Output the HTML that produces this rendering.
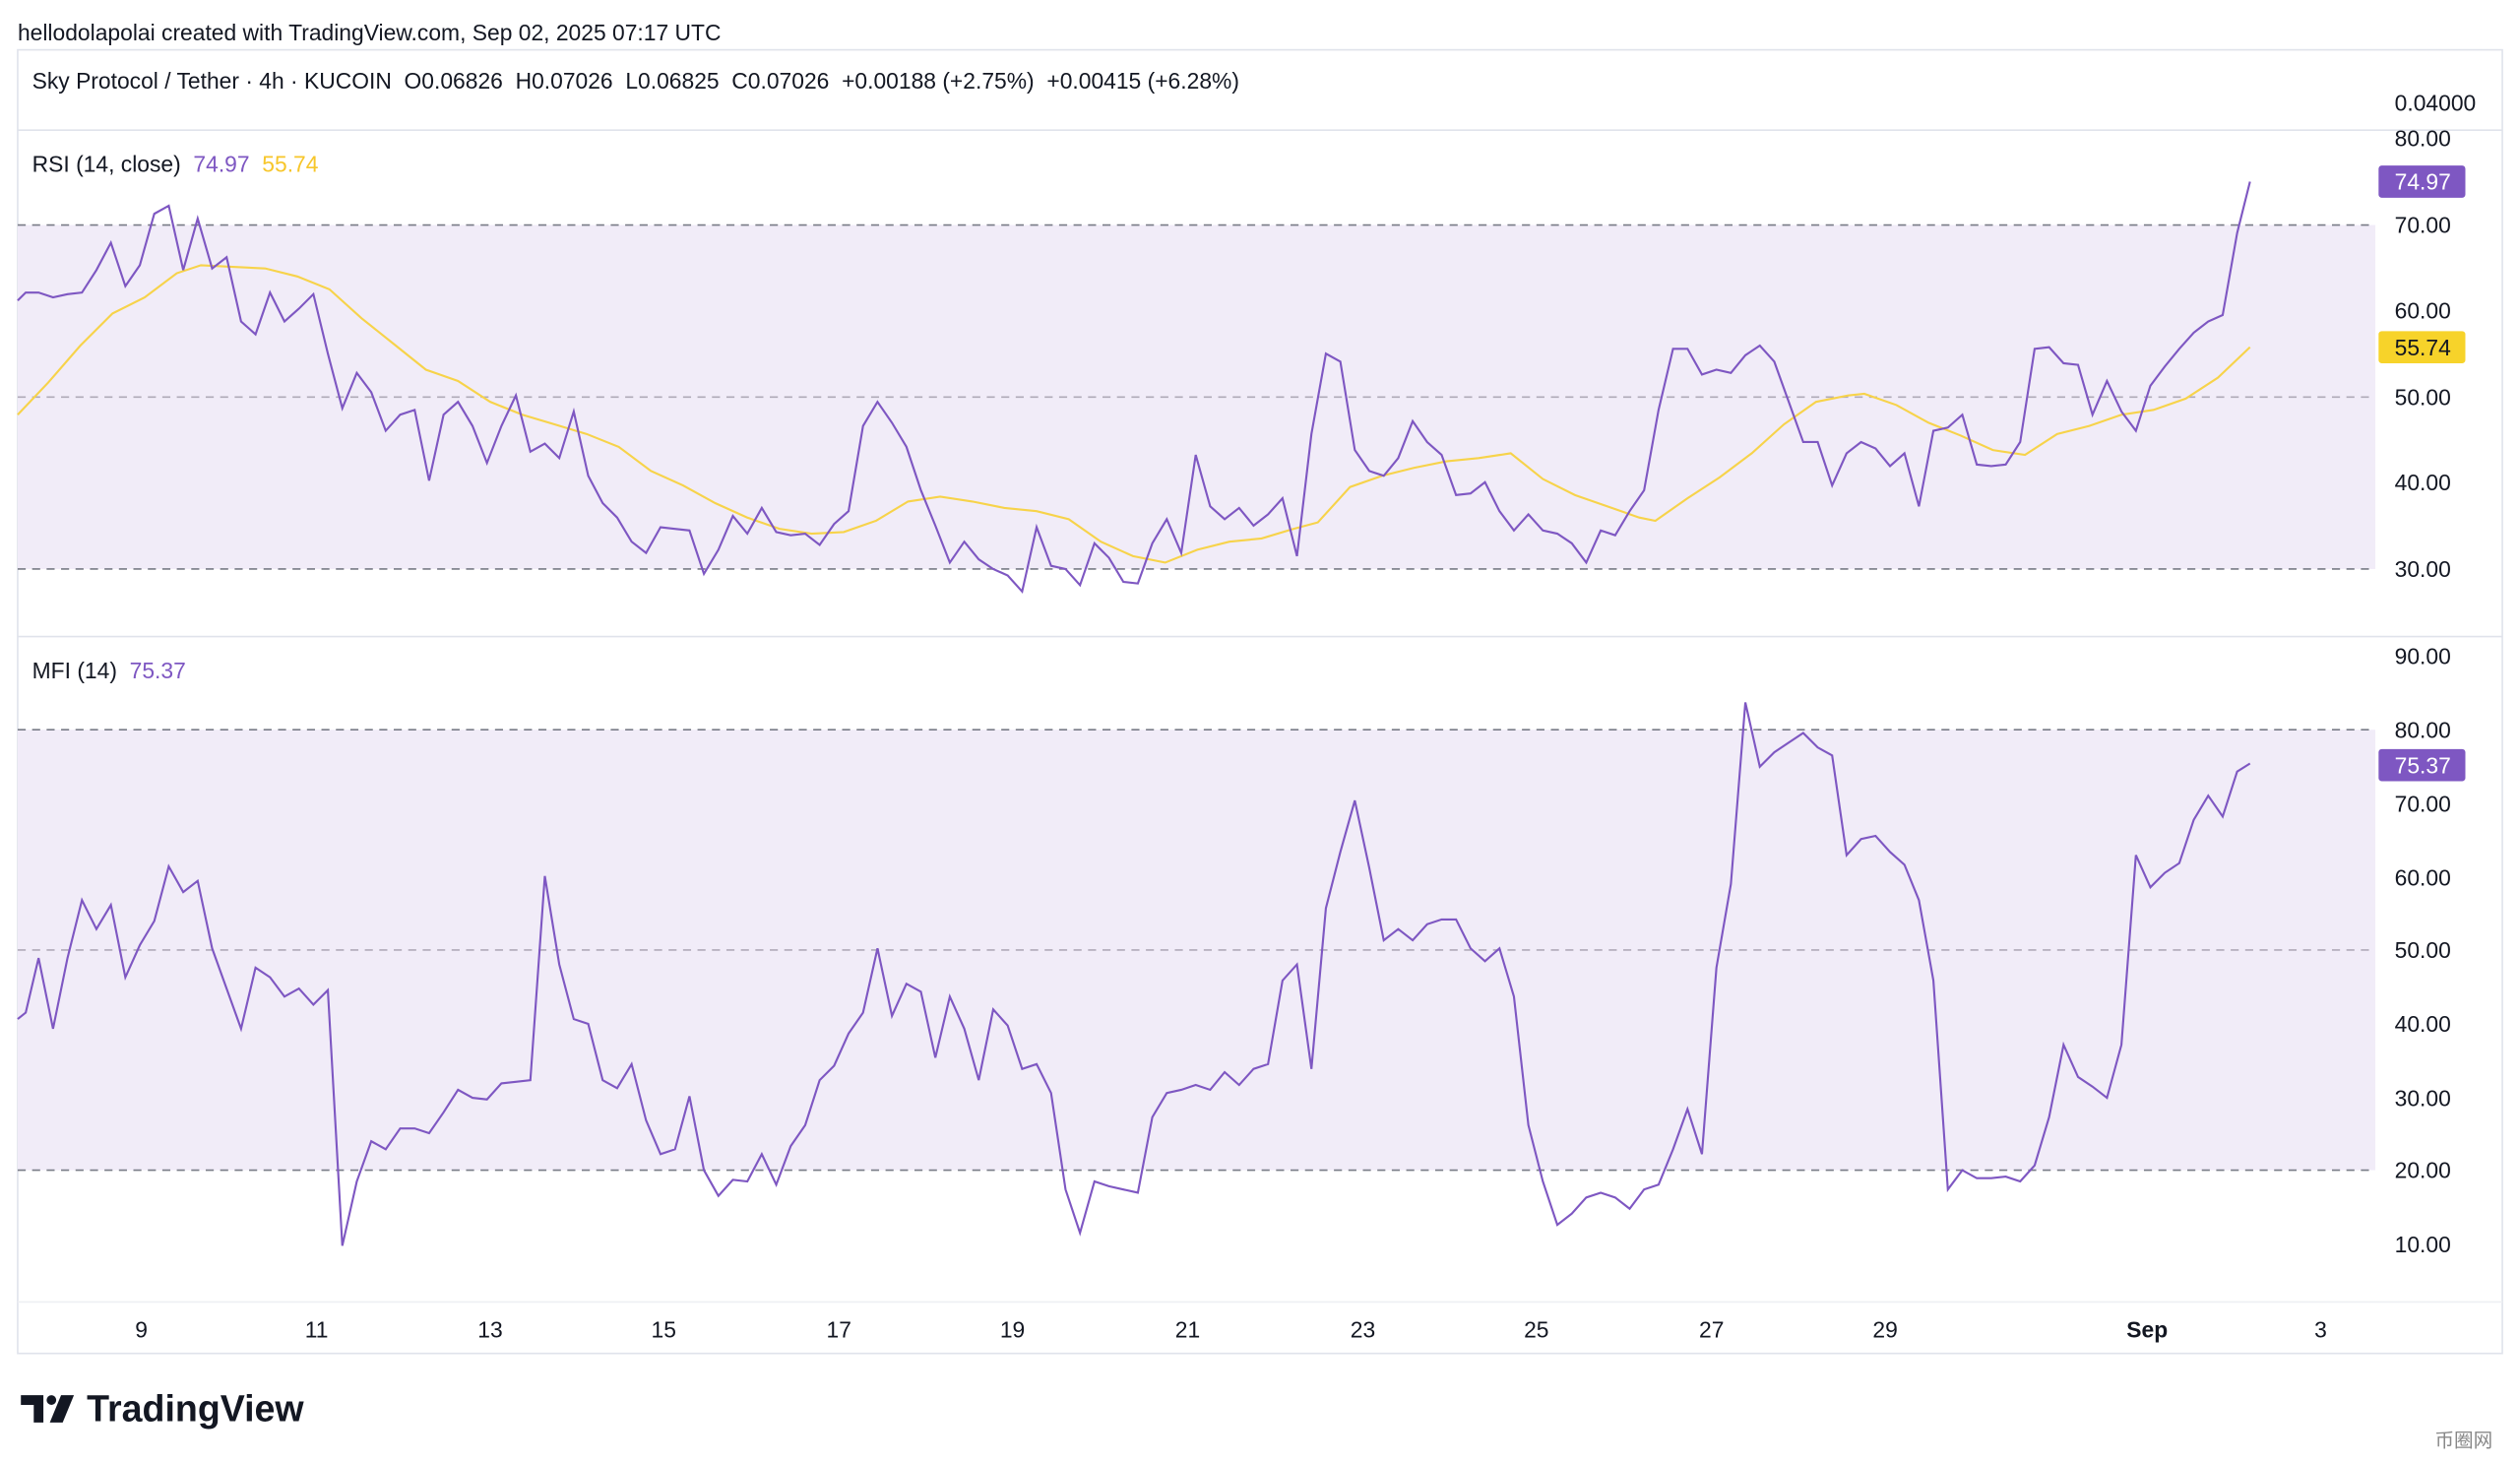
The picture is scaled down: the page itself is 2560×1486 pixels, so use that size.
<!DOCTYPE html>
<html><head><meta charset="utf-8"><style>
html,body{margin:0;padding:0;background:#fff;}
svg{display:block;}
text{font-family:"Liberation Sans",sans-serif;white-space:pre;}
</style></head><body>
<svg width="2560" height="1486" viewBox="0 0 1568 910.17" preserveAspectRatio="none" xmlns="http://www.w3.org/2000/svg">
<rect width="1568" height="910.17" fill="#fff"/>
<text x="11" y="25" font-size="14" fill="#131722">hellodolapolai created with TradingView.com, Sep 02, 2025 07:17 UTC</text>
<rect x="11" y="31" width="1546" height="811" fill="none" stroke="#e0e3eb" stroke-width="1"/>
<line x1="11" y1="81" x2="1557" y2="81" stroke="#e0e3eb"/>
<line x1="11" y1="396" x2="1557" y2="396" stroke="#e0e3eb"/>
<line x1="11" y1="810" x2="1557" y2="810" stroke="#eef0f3"/>
<text xml:space="preserve" x="20" y="55" font-size="14" fill="#131722">Sky Protocol / Tether · 4h · KUCOIN  O0.06826  H0.07026  L0.06825  C0.07026  +0.00188 (+2.75%)  +0.00415 (+6.28%)</text>
<text x="1490" y="69" font-size="14" fill="#131722">0.04000</text>
<rect x="11" y="140" width="1467" height="214" fill="#f1ecf8"/>
<g stroke="#787b86" stroke-dasharray="5,4" stroke-width="1">
<line x1="11" y1="140" x2="1478" y2="140"/><line x1="11" y1="354" x2="1478" y2="354"/>
</g>
<line x1="11" y1="247" x2="1478" y2="247" stroke="#b0aab8" stroke-dasharray="5,4"/>
<text xml:space="preserve" x="20" y="107" font-size="14" fill="#131722">RSI (14, close)  <tspan fill="#7e57c2">74.97</tspan>  <tspan fill="#f7c62a">55.74</tspan></text>
<g font-size="14" fill="#131722">
<text x="1490" y="91">80.00</text><text x="1490" y="145">70.00</text><text x="1490" y="198">60.00</text><text x="1490" y="252">50.00</text><text x="1490" y="305">40.00</text><text x="1490" y="359">30.00</text>
</g>
<polyline fill="none" stroke="#f7d34a" stroke-width="1.3" points="11,258 30,238 50,215 70,195 90,185 110,170 125,165 145,166 165,167 185,172 205,180 225,198 245,214 265,230 285,237 305,250 325,258 345,264 365,270 385,278 405,293 425,302 445,313 465,322 485,329 505,332 525,331 545,324 565,312 585,309 605,312 625,316 645,318 665,323 685,337 705,346 725,350 745,342 765,337 785,335 805,329 820,325 840,303 860,296 880,291 900,287 920,285 940,282 960,298 980,308 1000,315 1020,322 1030,324 1050,310 1070,297 1090,282 1110,264 1130,250 1150,246 1160,245 1180,252 1200,263 1220,271 1240,280 1260,283 1280,270 1300,265 1320,258 1340,255 1360,248 1380,235 1400,216"/>
<polyline fill="none" stroke="#7e57c2" stroke-width="1.3" points="11,187 16,182 24,182 33,185 42,183 51,182 60,168 69,151 78,178 87,165 96,133 105,128 114,168 123,136 132,167 141,160 150,200 159,208 168,182 177,200 186,192 195,183 204,220 213,254 222,232 231,244 240,268 249,258 258,255 267,299 276,258 285,250 294,265 303,288 312,265 321,246 330,281 339,276 348,285 357,256 366,296 375,313 384,322 393,337 402,344 411,328 420,329 429,330 438,357 447,342 456,321 465,332 474,316 483,331 492,333 501,332 510,339 519,326 528,318 537,265 546,250 555,263 564,278 573,305 582,327 591,350 600,337 609,348 618,354 627,358 636,368 645,328 654,352 663,354 672,364 681,338 690,347 699,362 708,363 717,338 726,323 735,344 744,283 753,315 762,323 771,316 780,327 789,320 798,310 807,346 816,270 825,220 834,225 843,280 852,293 861,296 870,285 879,262 888,275 897,283 906,308 915,307 924,300 933,318 942,330 951,320 960,330 969,332 978,338 987,350 996,330 1005,333 1014,318 1023,305 1032,255 1041,217 1050,217 1059,233 1068,230 1077,232 1086,221 1095,215 1104,225 1113,250 1122,275 1131,275 1140,302 1149,282 1158,275 1167,279 1176,290 1185,282 1194,315 1203,268 1212,266 1221,258 1230,289 1239,290 1248,289 1257,275 1266,217 1275,216 1284,226 1293,227 1302,258 1311,237 1320,256 1329,268 1338,240 1347,228 1356,217 1365,207 1374,200 1383,196 1392,145 1400,113"/>
<rect x="1480" y="103" width="54" height="20" rx="2" fill="#7e57c2"/>
<text x="1490" y="118" font-size="14" fill="#fff">74.97</text>
<rect x="1480" y="206" width="54" height="20" rx="2" fill="#f7d32a"/>
<text x="1490" y="221" font-size="14" fill="#131722">55.74</text>
<rect x="11" y="454" width="1467" height="274" fill="#f1ecf8"/>
<g stroke="#787b86" stroke-dasharray="5,4" stroke-width="1">
<line x1="11" y1="454" x2="1478" y2="454"/><line x1="11" y1="728" x2="1478" y2="728"/>
</g>
<line x1="11" y1="591" x2="1478" y2="591" stroke="#b0aab8" stroke-dasharray="5,4"/>
<text xml:space="preserve" x="20" y="422" font-size="14" fill="#131722">MFI (14)  <tspan fill="#7e57c2">75.37</tspan></text>
<g font-size="14" fill="#131722">
<text x="1490" y="413">90.00</text><text x="1490" y="459">80.00</text><text x="1490" y="505">70.00</text><text x="1490" y="551">60.00</text><text x="1490" y="596">50.00</text><text x="1490" y="642">40.00</text><text x="1490" y="688">30.00</text><text x="1490" y="733">20.00</text><text x="1490" y="779">10.00</text>
</g>
<polyline fill="none" stroke="#7e57c2" stroke-width="1.3" points="11,634 16,630 24,596 33,640 42,596 51,560 60,578 69,563 78,608 87,588 96,573 105,539 114,555 123,548 132,590 141,615 150,640 159,602 168,608 177,620 186,615 195,625 204,616 213,775 222,735 231,710 240,715 249,702 258,702 267,705 276,692 285,678 294,683 303,684 312,674 321,673 330,672 339,545 348,600 357,634 366,637 375,672 384,677 393,662 402,697 411,718 420,715 429,682 438,728 447,744 456,734 465,735 474,718 483,737 492,713 501,700 510,672 519,663 528,643 537,630 546,590 555,632 564,612 573,617 582,658 591,620 600,640 609,672 618,628 627,638 636,665 645,662 654,680 663,740 672,767 681,735 690,738 699,740 708,742 717,695 726,680 735,678 744,675 753,678 762,667 771,675 780,665 789,662 798,610 807,600 816,665 825,565 834,530 843,498 852,540 861,585 870,578 879,585 888,575 897,572 906,572 915,590 924,598 933,590 942,620 951,700 960,735 969,762 978,755 987,745 996,742 1005,745 1014,752 1023,740 1032,737 1041,715 1050,690 1059,718 1068,602 1077,550 1086,437 1095,477 1104,468 1113,462 1122,456 1131,465 1140,470 1149,532 1158,522 1167,520 1176,530 1185,538 1194,560 1203,610 1212,740 1221,728 1230,733 1239,733 1248,732 1257,735 1266,725 1275,695 1284,650 1293,670 1302,676 1311,683 1320,650 1329,532 1338,552 1347,543 1356,537 1365,510 1374,495 1383,508 1392,480 1400,475"/>
<rect x="1480" y="466" width="54" height="20" rx="2" fill="#7e57c2"/>
<text x="1490" y="481" font-size="14" fill="#fff">75.37</text>
<g font-size="14" fill="#131722" text-anchor="middle">
<text x="88" y="832">9</text><text x="197" y="832">11</text><text x="305" y="832">13</text><text x="413" y="832">15</text><text x="522" y="832">17</text><text x="630" y="832">19</text><text x="739" y="832">21</text><text x="848" y="832">23</text><text x="956" y="832">25</text><text x="1065" y="832">27</text><text x="1173" y="832">29</text><text x="1336" y="832" font-weight="bold">Sep</text><text x="1444" y="832">3</text>
</g>
<g fill="#131722">
<path d="M13 868h14v17h-6v-11h-8z"/><circle cx="32" cy="871" r="3"/><path d="M38 868h8l-7 17h-8z"/>
</g>
<text x="54" y="884" font-size="23" font-weight="bold" fill="#131722">TradingView</text>
<text x="1515" y="900" font-size="12" fill="#888">币圈网</text>
</svg>
</body></html>
